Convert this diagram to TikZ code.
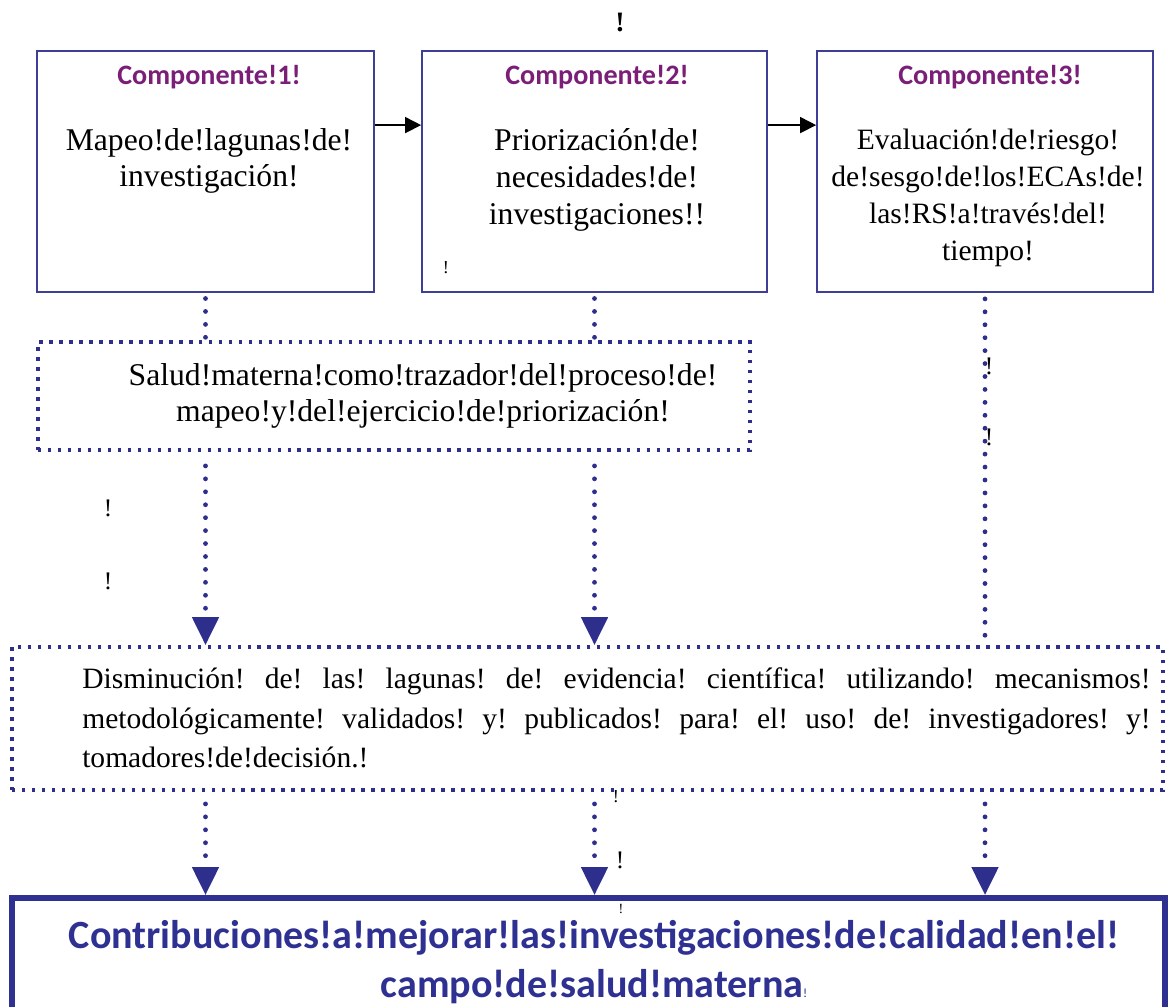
\documentclass[tikz,border=0pt]{standalone}
\usepackage{fontspec}
\setmainfont{Liberation Serif}
\newfontfamily\calibri{Carlito}
\usetikzlibrary{arrows.meta}
\definecolor{boxblue}{RGB}{62,62,150}
\definecolor{dotblue}{RGB}{46,46,140}
\definecolor{headpurple}{RGB}{122,30,120}
\definecolor{titleblue}{RGB}{46,49,146}
\begin{document}
\begin{tikzpicture}[
 x=0.025cm, y=-0.025cm,
 >={Triangle[length=0.4cm,width=0.4cm]},
 align=center,
 inner sep=0mm,
 comp/.style={draw=boxblue,line width=1.2pt,rectangle,minimum height=6.025cm},
 heading/.style={text=headpurple,font=\calibri\bfseries\fontsize{20}{24}\selectfont},
 body/.style={font=\fontsize{22.5}{26.2}\selectfont},
 dotbox/.style={draw=dotblue,line width=2.7pt,dash pattern=on 2.5pt off 4.6pt,rectangle},
 dotline/.style={dotblue,line width=3.4pt,line cap=round,dash pattern=on 0pt off 9.2pt},
 dotarrow/.style={dotline,-{Triangle[length=0.7cm,width=0.65cm,fill=dotblue]}},
 result/.style={draw=titleblue,line width=4.2pt,rectangle},
 stray/.style={font=\fontsize{13}{13}\selectfont}
]
\useasboundingbox (0,0) rectangle (1168,1006);
\fill [white] (0,0) rectangle (1168,1006);
% components
\node (comp1-box) [comp,minimum width=8.425cm] at (205.5,171.5) {};
\node (comp2-box) [comp,minimum width=8.625cm] at (594.5,171.5) {};
\node (comp3-box) [comp,minimum width=8.4cm] at (985,171.5) {};
\node (comp1-head) [heading] at (209,77) {Componente!1!};
\node (comp2-head) [heading] at (597,77) {Componente!2!};
\node (comp3-head) [heading] at (990,77) {Componente!3!};
\node (comp1-text) [body] at (209,161) {Mapeo!de!lagunas!de!\\investigación!};
\node (comp2-text) [body] at (597,180) {Priorización!de!\\necesidades!de!\\investigaciones!!};
\node (comp3-text) [body,font=\fontsize{21}{26.2}\selectfont] at (988,198) {Evaluación!de!riesgo!\\de!sesgo!de!los!ECAs!de!\\las!RS!a!través!del!\\tiempo!};
\draw [->,line width=1.2pt] ([yshift=1.16cm]comp1-box.east) -- ([yshift=1.16cm]comp2-box.west);
\draw [->,line width=1.2pt] ([yshift=1.16cm]comp2-box.east) -- ([yshift=1.16cm]comp3-box.west);
% tracer
\node (tracer-box) [dotbox,minimum width=17.8cm,minimum height=2.7cm] at (394,396) {};
\node (tracer-text) [body,font=\fontsize{22.5}{26}\selectfont] at (423,396) {Salud!materna!como!trazador!del!proceso!de!\\mapeo!y!del!ejercicio!de!priorización!};
\draw [dotline] ([yshift=-4pt]comp1-box.south) -- (comp1-box.south |- tracer-box.north);
\draw [dotline] ([yshift=-4pt]comp2-box.south) -- (comp2-box.south |- tracer-box.north);
% evidence gaps
\node (gaps-box) [dotbox,minimum width=28.775cm,minimum height=3.575cm] at (587.5,718.5) {};
\node (gaps-text) [body,anchor=west,align=left,font=\fontsize{21}{28}\selectfont] at (82,718) {\makebox[26.7cm][s]{Disminución! de! las! lagunas! de! evidencia! científica! utilizando! mecanismos!}\\\makebox[26.7cm][s]{metodológicamente! validados! y! publicados! para! el! uso! de! investigadores! y!}\\tomadores!de!decisión.!};
\draw [dotarrow] ([yshift=-0.35cm]tracer-box.south -| comp1-box) -- (gaps-box.north -| comp1-box);
\draw [dotarrow] ([yshift=-0.35cm]tracer-box.south -| comp2-box) -- (gaps-box.north -| comp2-box);
\draw [dotline] ([yshift=-0.15cm]comp3-box.south) -- (comp3-box.south |- gaps-box.north);
% contribution
\node (result-box) [result,minimum width=28.825cm,minimum height=3.4cm] at (588.5,966) {};
\node (result-text) [text=titleblue,font=\calibri\bfseries\fontsize{28.5}{35.4}\selectfont] at (594,962) {Contribuciones!a!mejorar!las!investigaciones!de!calidad!en!el!\\campo!de!salud!materna\textmd{\small!}};
\draw [dotarrow] ([yshift=-0.3cm]gaps-box.south -| comp1-box) -- (result-box.north -| comp1-box);
\draw [dotarrow] ([yshift=-0.3cm]gaps-box.south -| comp2-box) -- (result-box.north -| comp2-box);
\draw [dotarrow] ([yshift=-0.3cm]gaps-box.south -| comp3-box) -- (result-box.north -| comp3-box);
% stray marks
\node (mark-top) [font=\bfseries\fontsize{20}{20}\selectfont] at (620,22) {!};
\node (mark-c2) [stray] at (446,268) {!};
\node (mark-l1) [stray,font=\fontsize{18}{18}\selectfont] at (108,508) {!};
\node (mark-l2) [stray,font=\fontsize{18}{18}\selectfont] at (108,581) {!};
\node (mark-r1) [stray,font=\fontsize{18}{18}\selectfont] at (989,366) {!};
\node (mark-r2) [stray,font=\fontsize{18}{18}\selectfont] at (989,437) {!};
\node (mark-b1) [stray] at (616,797) {!};
\node (mark-b2) [stray,font=\fontsize{18}{18}\selectfont] at (620,860) {!};
\node (mark-b3) [stray,font=\fontsize{10}{10}\selectfont] at (621,909) {!};
\end{tikzpicture}
\end{document}
